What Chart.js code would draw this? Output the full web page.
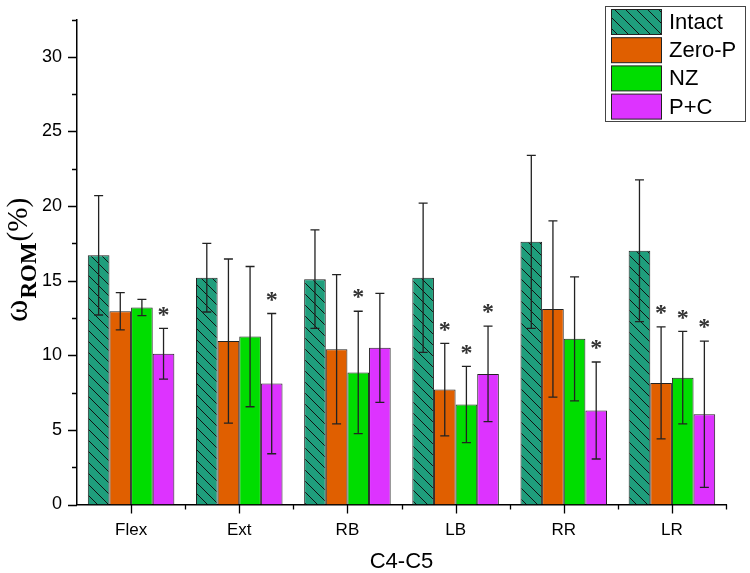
<!DOCTYPE html>
<html>
<head>
<meta charset="utf-8">
<script src="https://cdn.jsdelivr.net/npm/chart.js@4/dist/chart.umd.min.js"></script>
<style>
  html, body { margin: 0; padding: 0; background: #fff; }
  #wrap { width: 750px; height: 573px; }
</style>
</head>
<body>
<div id="wrap"><canvas id="barChart" width="750" height="573"></canvas></div>
<script>
const categories = ['Flex', 'Ext', 'RB', 'LB', 'RR', 'LR'];
const seriesNames = ['Intact', 'Zero-P', 'NZ', 'P+C'];

const intact    = [16.7, 15.2, 15.1, 15.2, 17.6, 17.0];
const intactErr = [4.0, 2.3, 3.3, 5.0, 5.8, 4.75];
const zeroP     = [12.95, 10.95, 10.4, 7.7, 13.1, 8.15];
const zeroPErr  = [1.25, 5.5, 5.0, 3.1, 5.9, 3.75];
const nz        = [13.2, 11.25, 8.85, 6.7, 11.1, 8.5];
const nzErr     = [0.55, 4.7, 4.1, 2.55, 4.15, 3.1];
const pc        = [10.1, 8.1, 10.5, 8.75, 6.3, 6.05];
const pcErr     = [1.7, 4.7, 3.65, 3.2, 3.25, 4.9];

// significance markers (*), 1 = shown
const intactStar = [0, 0, 0, 0, 0, 0];
const zeroPStar  = [0, 0, 0, 1, 0, 1];
const nzStar     = [0, 0, 1, 1, 0, 1];
const pcStar     = [1, 1, 0, 1, 1, 1];

const yTicks = [0, 5, 10, 15, 20, 25, 30];

// hatch for the Intact bars
function hatch(bg) {
  const s = 11;
  const c = document.createElement('canvas');
  c.width = s; c.height = s;
  const g = c.getContext('2d');
  g.fillStyle = bg;
  g.fillRect(0, 0, s, s);
  g.strokeStyle = '#111';
  g.lineWidth = 1;
  for (let i = -1; i <= 1; i++) {
    g.beginPath();
    g.moveTo(i * s, 0);
    g.lineTo(i * s + s, s);
    g.stroke();
  }
  return g.createPattern(c, 'repeat');
}

const colors = [hatch('#1f9e7c'), '#e05f00', '#00dd00', '#dd33ff'];
const errs = [intactErr, zeroPErr, nzErr, pcErr];
const stars = [intactStar, zeroPStar, nzStar, pcStar];

const extras = {
  id: 'extras',
  afterDatasetsDraw(chart) {
    const ctx = chart.ctx;
    const y = chart.scales.y;
    ctx.save();
    chart.data.datasets.forEach((ds, di) => {
      const meta = chart.getDatasetMeta(di);
      meta.data.forEach((bar, i) => {
        const v = ds.data[i], e = errs[di][i];
        const top = y.getPixelForValue(v + e);
        const bot = y.getPixelForValue(v - e);
        ctx.strokeStyle = '#222';
        ctx.lineWidth = 1.3;
        ctx.beginPath();
        ctx.moveTo(bar.x, top); ctx.lineTo(bar.x, bot);
        ctx.moveTo(bar.x - 4.5, top); ctx.lineTo(bar.x + 4.5, top);
        ctx.moveTo(bar.x - 4.5, bot); ctx.lineTo(bar.x + 4.5, bot);
        ctx.stroke();
        if (stars[di][i]) {
          ctx.fillStyle = '#333';
          ctx.font = 'bold 24px "Liberation Serif", serif';
          ctx.textAlign = 'center';
          ctx.textBaseline = 'middle';
          ctx.fillText('*', bar.x, top - 13);
        }
      });
    });
    ctx.restore();
  },
  afterDraw(chart) {
    const ctx = chart.ctx;
    const x = chart.scales.x, y = chart.scales.y;
    const area = chart.chartArea;
    ctx.save();
    ctx.strokeStyle = '#000';
    ctx.lineWidth = 1.3;
    ctx.beginPath();
    // y ticks, major every 5, minor every 2.5
    for (let v = 0; v <= 32.5; v += 2.5) {
      const py = Math.round(y.getPixelForValue(v)) + 0.5;
      const len = v % 5 === 0 ? 9 : 5;
      ctx.moveTo(area.left, py); ctx.lineTo(area.left - len, py);
    }
    // x ticks: major at categories, minor at boundaries
    const step = (area.right - area.left) / categories.length;
    categories.forEach((c, i) => {
      const px = Math.round(x.getPixelForValue(i)) + 0.5;
      ctx.moveTo(px, area.bottom); ctx.lineTo(px, area.bottom + 9);
    });
    for (let i = 1; i <= categories.length; i++) {
      const px = Math.round(area.left + i * step) + 0.5;
      ctx.moveTo(px, area.bottom); ctx.lineTo(px, area.bottom + 5);
    }
    ctx.stroke();

    // x title
    ctx.fillStyle = '#000';
    ctx.font = '22px Arial, "Liberation Sans", sans-serif';
    ctx.textAlign = 'center';
    ctx.textBaseline = 'middle';
    ctx.fillText('C4-C5', (area.left + area.right) / 2, 562);

    // y title (rotated)
    ctx.save();
    ctx.translate(27, 322);
    ctx.rotate(-Math.PI / 2);
    ctx.textAlign = 'left';
    ctx.textBaseline = 'alphabetic';
    ctx.font = '34px "Liberation Serif", serif';
    ctx.fillText('\u03c9', 0, 0);
    let w = ctx.measureText('\u03c9').width + 1;
    ctx.font = 'bold 23px "Liberation Serif", serif';
    ctx.fillText('ROM', w, 9);
    w += ctx.measureText('ROM').width + 1;
    ctx.font = '29px "Liberation Serif", serif';
    ctx.fillText('(%)', w, 0);
    ctx.restore();

    // legend box
    const lx = 605, ly = 6, lw = 140, lh = 115;
    ctx.fillStyle = '#fff';
    ctx.fillRect(lx, ly, lw, lh);
    ctx.strokeStyle = '#444';
    ctx.lineWidth = 1;
    ctx.strokeRect(lx + 0.5, ly + 0.5, lw, lh);
    ctx.font = '22px Arial, "Liberation Sans", sans-serif';
    ctx.textAlign = 'left';
    ctx.textBaseline = 'middle';
    seriesNames.forEach((name, i) => {
      const sy = 9.5 + i * 28.2;
      ctx.fillStyle = colors[i];
      ctx.fillRect(611.5, sy, 50, 25);
      ctx.strokeStyle = '#222';
      ctx.strokeRect(611.5, sy, 50, 25);
      ctx.fillStyle = '#000';
      ctx.fillText(name, 669, sy + 13.5);
    });
    ctx.restore();
  }
};

const ctx = document.getElementById('barChart').getContext('2d');
const barChart = new Chart(ctx, {
  type: 'bar',
  data: {
    labels: categories,
    datasets: [
      { label: seriesNames[0], data: intact, backgroundColor: colors[0] },
      { label: seriesNames[1], data: zeroP, backgroundColor: colors[1] },
      { label: seriesNames[2], data: nz, backgroundColor: colors[2] },
      { label: seriesNames[3], data: pc, backgroundColor: colors[3] }
    ].map(d => Object.assign(d, { borderColor: '#222', borderWidth: 1, borderSkipped: 'bottom' }))
  },
  options: {
    responsive: false,
    animation: false,
    layout: { padding: { top: 19.5, right: 24, left: 0, bottom: 0 } },
    datasets: { bar: { categoryPercentage: 0.8, barPercentage: 1.0 } },
    plugins: {
      legend: { display: false },
      title: { display: false },
      tooltip: { enabled: false }
    },
    scales: {
      x: {
        grid: { display: false },
        border: { display: true, color: '#000', width: 1.5 },
        ticks: {
          color: '#000', padding: 8,
          font: { family: 'Arial, "Liberation Sans", sans-serif', size: 17 }
        },
        afterFit(scale) { scale.height = 68.5; }
      },
      y: {
        min: 0, max: 32.5,
        afterBuildTicks(scale) { scale.ticks = yTicks.map(v => ({ value: v })); },
        grid: { display: false },
        border: { display: true, color: '#000', width: 1.5 },
        ticks: {
          color: '#000', padding: 7,
          font: { family: 'Arial, "Liberation Sans", sans-serif', size: 18 }
        },
        afterFit(scale) { scale.width = 77; }
      }
    }
  },
  plugins: [extras]
});
</script>
</body>
</html>
